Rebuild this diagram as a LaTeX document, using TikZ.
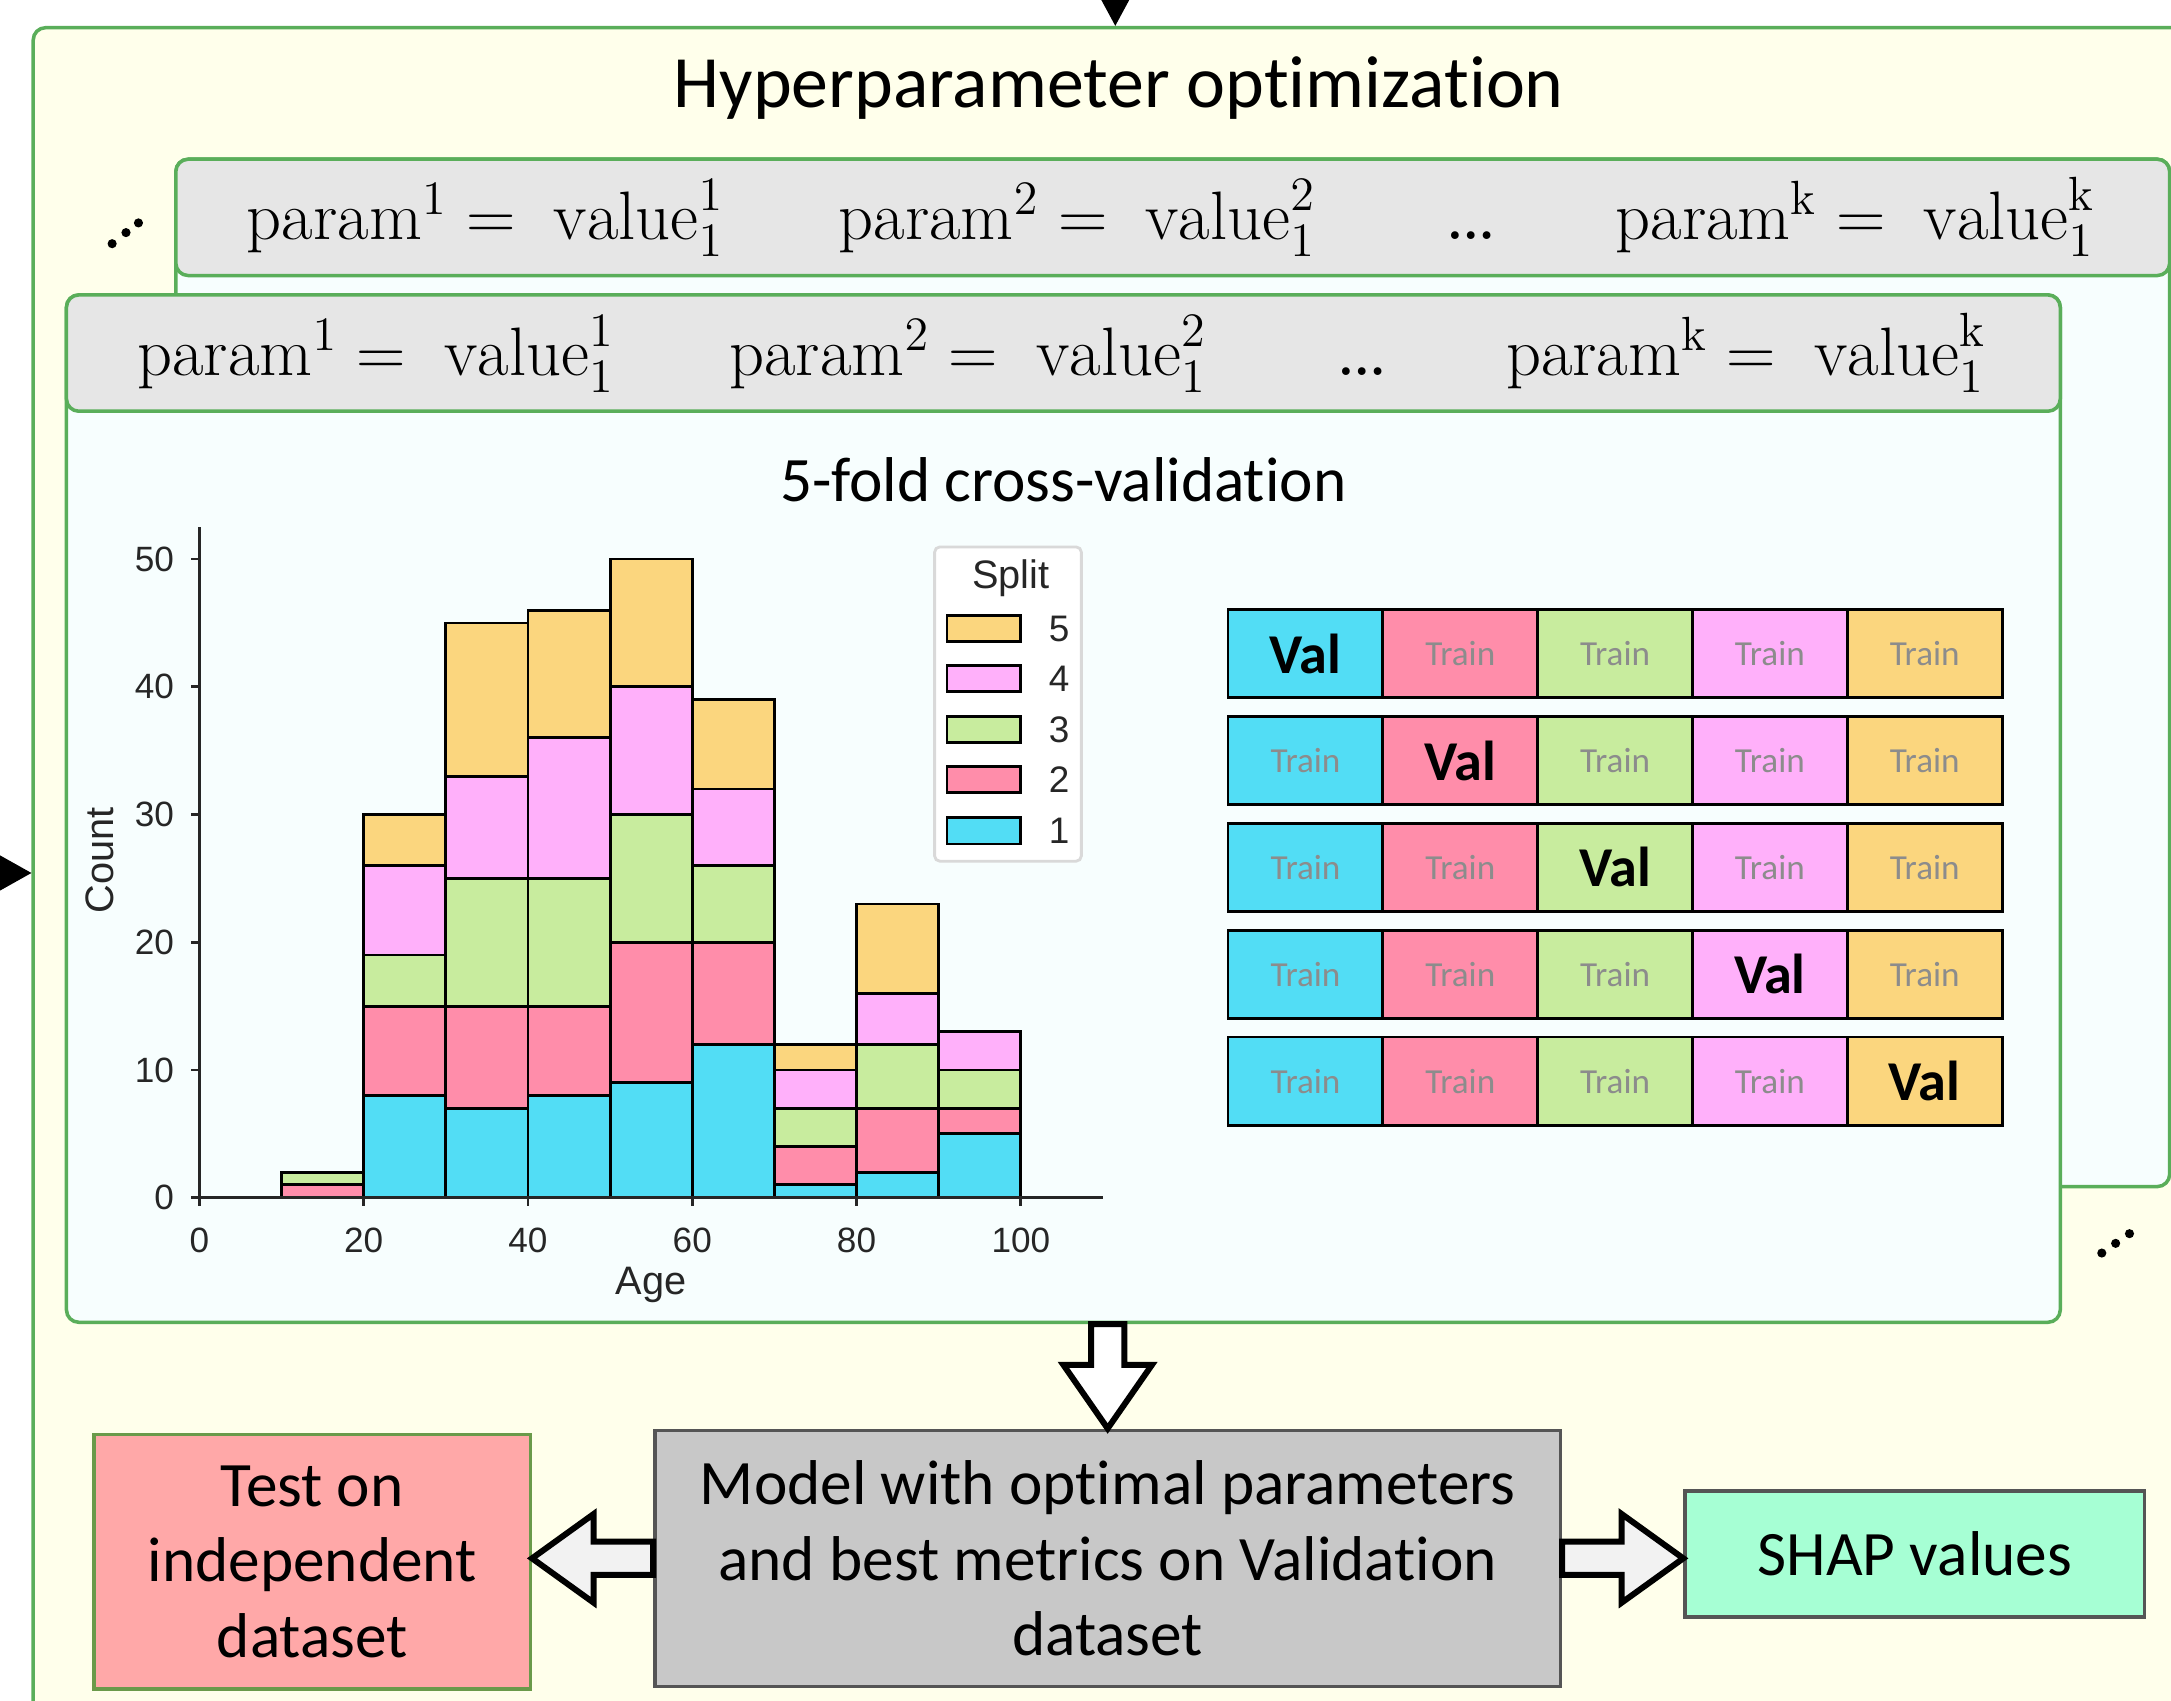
\documentclass[tikz,border=0pt]{standalone}
\usepackage{fix-cm}
\usepackage{amsmath}
\usepackage{fontspec}
\usepackage{tikz}
\usetikzlibrary{arrows.meta, calc, fit}

\newfontfamily\calibrifont[Ligatures=NoCommon]{Carlito}
\newfontfamily\arialfont{Liberation Sans}

\definecolor{bgyellow}{HTML}{FFFFEB}
\definecolor{bodywhite}{HTML}{F7FEFE}
\definecolor{headgray}{HTML}{E6E6E6}
\definecolor{panelgreen}{HTML}{5AAE5A}
\definecolor{fold1}{HTML}{52DDF5}
\definecolor{fold2}{HTML}{FF8DAA}
\definecolor{fold3}{HTML}{C8EC9E}
\definecolor{fold4}{HTML}{FFB0FA}
\definecolor{fold5}{HTML}{FBD67E}
\definecolor{traingray}{HTML}{8C8C8C}
\definecolor{axisgray}{HTML}{262626}
\definecolor{modelgray}{HTML}{C8C8C8}
\definecolor{boxedge}{HTML}{555555}
\definecolor{testpink}{HTML}{FFA8A8}
\definecolor{testedge}{HTML}{6A9A4A}
\definecolor{shapmint}{HTML}{A6FFD4}
\definecolor{arrowgray}{HTML}{F2F2F2}

\tikzset{
  panel/.style={draw=panelgreen, line width=1pt, rounded corners=3.5pt, inner sep=0pt},
  header/.style={panel, fill=headgray},
  titletext/.style={font=\calibrifont\fontsize{21}{25}\selectfont, anchor=base},
  param/.style={font=\fontsize{19.5}{23}\selectfont, anchor=base, inner sep=0pt},
  bar/.style={draw=black, line width=0.8pt},
  axisline/.style={draw=axisgray, line width=0.8pt},
  ticklabel/.style={font=\arialfont\fontsize{10}{12}\selectfont, text=axisgray, inner sep=0pt},
  axlabel/.style={font=\arialfont\fontsize{11.3}{13}\selectfont, text=axisgray},
  cell/.style={draw=black, line width=0.8pt, inner sep=0pt,
    minimum width=44.05pt, minimum height=25.2pt},
  finalbox/.style={draw=boxedge, line width=1pt, inner sep=0pt},
  finaltext/.style={align=center, inner sep=0pt,
    font=\calibrifont\fontsize{18}{21.5}\selectfont},
  hollow/.style={draw=black, line width=1.7pt, miter limit=10},
  feed/.style={draw=black, line width=0.8pt},
}

\begin{document}
\begin{tikzpicture}[x=0.013846cm, y=-0.013846cm]
\useasboundingbox (0,0) rectangle (1568,1228);
\clip (0,0) rectangle (1568,1228);

% Hyperparameter optimization frame
\node[panel, fill=bgyellow, fit={(24,20) (1620,1280)}] (hpo) {};
\node[titletext] (hpotitle) at (808,78) {Hyperparameter optimization};

% Incoming arrows
\coordinate (fromabove) at (805.5,-40);
\coordinate (fromleft) at (-40,630.5);
\draw[feed, -{Triangle[length=8pt, width=8.4pt]}] (fromabove) -- (fromabove |- hpo.north);
\draw[feed, -{Triangle[length=10pt, width=11pt]}] (fromleft) -- (fromleft -| hpo.west);

% Parameter sets (back one first)
\foreach \nm/\dx/\dy in {back/79/-98, front/0/0} {
  \node[panel, fill=bodywhite, fit={(48+\dx,213+\dy) (1488+\dx,955+\dy)}] (\nm) {};
  \node[header, fit={(48+\dx,213+\dy) (1488+\dx,297+\dy)}] (\nm-head) {};
  \node[param] (\nm-p1) at (271.5+\dx,271+\dy) {$\mathrm{param}^1 = \;\mathrm{value}^1_1$};
  \node[param] (\nm-p2) at (699+\dx,271+\dy) {$\mathrm{param}^2 = \;\mathrm{value}^2_1$};
  \node[param, font=\fontsize{27}{30}\selectfont] (\nm-dots) at (983.5+\dx,271+\dy) {\ldots};
  \node[param] (\nm-pk) at (1261+\dx,271+\dy) {$\mathrm{param}^\mathrm{k} = \;\mathrm{value}^\mathrm{k}_1$};
}

% More parameter sets
\foreach \px/\py in {81/176, 91/168, 100/161, 1518/905, 1528/898, 1538/891}
  \fill (\px,\py) circle[radius=1.3pt];

\node[titletext, font=\calibrifont\fontsize{18}{22}\selectfont] (cvtitle) at (768,362) {5-fold cross-validation};

% Histogram
\coordinate (histo0) at (144,865);
\begin{scope}[shift={(histo0)}, x=0.08211cm, y=0.12766cm]
  \foreach \b/\na/\nb/\nc/\nd/\ne in {10/0/1/2/2/2, 20/8/15/19/26/30, 30/7/15/25/33/45,
      40/8/15/25/36/46, 50/9/20/30/40/50, 60/12/20/26/32/39, 70/1/4/7/10/12,
      80/2/7/12/16/23, 90/5/7/10/13/13} {
    \draw[bar, fill=fold1] (\b,0) rectangle (\b+10,\na);
    \draw[bar, fill=fold2] (\b,\na) rectangle (\b+10,\nb);
    \draw[bar, fill=fold3] (\b,\nb) rectangle (\b+10,\nc);
    \draw[bar, fill=fold4] (\b,\nc) rectangle (\b+10,\nd);
    \draw[bar, fill=fold5] (\b,\nd) rectangle (\b+10,\ne);
  }
  \draw[axisline] (0,52.5) -- (0,0) -- (110,0);
  \foreach \c in {0,10,...,50} {
    \draw[axisline] (0,\c) -- (-1,\c);
    \node[ticklabel, anchor=east] (ytick-\c) at (-3,\c) {\c};
  }
  \foreach \a in {0,20,...,100} {
    \draw[axisline] (\a,0) -- (\a,-0.65);
    \node[ticklabel, anchor=north] (xtick-\a) at (\a,-2.3) {\a};
  }
  \node[axlabel, rotate=90] (countlabel) at (-12.1,26.4) {Count};
  \node[axlabel, anchor=base] (agelabel) at (55,-7.6) {Age};
\end{scope}

% Legend
\node[draw=black!15, line width=0.8pt, fill=white, rounded corners=1.5pt,
  inner sep=0pt, fit={(675,395) (781,622)}] (legend) {};
\node[axlabel, anchor=base] (legend-title) at (730,425) {Split};
\foreach \k/\yy in {5/454, 4/490, 3/527, 2/563, 1/600} {
  \node[bar, fill=fold\k, inner sep=0pt, minimum width=20.9pt, minimum height=7.5pt]
    (patch-\k) at (710.5,\yy) {};
  \node[axlabel, font=\arialfont\fontsize{10.5}{12}\selectfont] (entry-\k) at (765,\yy) {\k};
}

% Folds
\foreach \r in {1,...,5} {
  \foreach \c in {1,...,5} {
    \ifnum\r=\c
      \node[cell, fill=fold\c, font=\calibrifont\bfseries\fontsize{16}{18}\selectfont]
        (fold-\r-\c) at ({887+111.8*(\c-0.5)},{472+77.25*(\r-1)}) {Val};
    \else
      \node[cell, fill=fold\c, text=traingray, font=\calibrifont\fontsize{10}{12}\selectfont]
        (fold-\r-\c) at ({887+111.8*(\c-0.5)},{472+77.25*(\r-1)}) {Train};
    \fi
  }
}

% Results
\node[finalbox, fill=modelgray, fit={(473,1033) (1127,1218)}] (model) {};
\node[finaltext] (model-text) at (model.center)
  {Model with optimal parameters\\and best metrics on Validation\\dataset};
\node[finalbox, fill=testpink, draw=testedge, fit={(68,1036) (383,1220)}] (test) {};
\node[finaltext] (test-text) at (test.center) {Test on\\independent\\dataset};
\node[finalbox, fill=shapmint, fit={(1217,1077) (1549,1168)}] (shap) {};
\node[finaltext] (shap-text) at (shap.center) {SHAP values};

% Block arrows
\draw[hollow, fill=white] ($(model.north |- front.south)+(-12,0)$) -- ($(model.north)+(-12,-46)$)
  -- ($(model.north)+(-32,-46)$) -- (model.north) -- ($(model.north)+(32,-46)$)
  -- ($(model.north)+(12,-46)$) -- ($(model.north |- front.south)+(12,0)$) -- cycle;
\draw[hollow, fill=arrowgray] ($(model.east)+(0,-12)$) -- ($(model.east)+(43,-12)$)
  -- ($(model.east)+(43,-32)$) -- (shap.west |- model.east) -- ($(model.east)+(43,32)$)
  -- ($(model.east)+(43,12)$) -- ($(model.east)+(0,12)$) -- cycle;
\draw[hollow, fill=arrowgray] ($(model.west)+(0,-12)$) -- ($(model.west)+(-43,-12)$)
  -- ($(model.west)+(-43,-32)$) -- (test.east |- model.west) -- ($(model.west)+(-43,32)$)
  -- ($(model.west)+(-43,12)$) -- ($(model.west)+(0,12)$) -- cycle;

\end{tikzpicture}
\end{document}
